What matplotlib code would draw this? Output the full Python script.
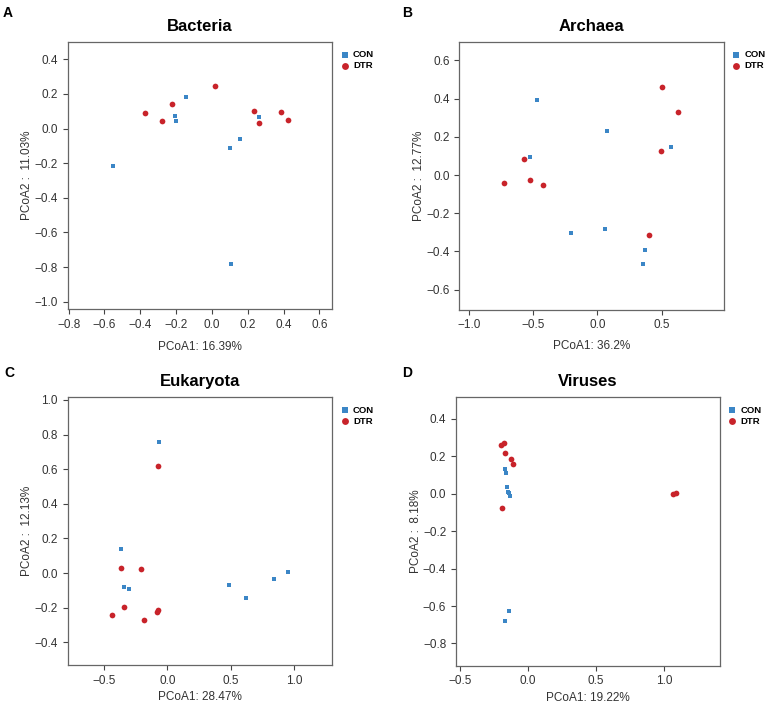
import matplotlib
matplotlib.use("Agg")
import matplotlib.pyplot as plt

plt.rcParams['font.family'] = ['Liberation Sans', 'DejaVu Sans']

BLUE = '#3b86c6'
RED = '#c8232a'

# Bacteria
bac_con_x = [-0.553, -0.144, -0.207, -0.198, 0.103, 0.154, 0.261, 0.109]
bac_con_y = [-0.216, 0.184, 0.071, 0.046, -0.112, -0.058, 0.069, -0.782]
bac_dtr_x = [-0.374, -0.280, -0.224, 0.016, 0.233, 0.265, 0.386, 0.423]
bac_dtr_y = [0.088, 0.044, 0.142, 0.244, 0.104, 0.032, 0.096, 0.048]

# Archaea
arc_con_x = [-0.468, 0.074, -0.528, 0.570, -0.206, 0.059, 0.373, 0.355]
arc_con_y = [0.392, 0.230, 0.092, 0.148, -0.302, -0.284, -0.393, -0.467]
arc_dtr_x = [0.503, 0.627, 0.492, -0.572, -0.730, -0.528, -0.424, 0.401]
arc_dtr_y = [0.462, 0.328, 0.126, 0.082, -0.044, -0.026, -0.052, -0.314]

# Eukaryota
euk_con_x = [-0.067, -0.369, -0.342, -0.303, 0.488, 0.619, 0.837, 0.947]
euk_con_y = [0.755, 0.141, -0.078, -0.094, -0.071, -0.144, -0.032, 0.006]
euk_dtr_x = [-0.077, -0.369, -0.208, -0.342, -0.434, -0.182, -0.072, -0.082]
euk_dtr_y = [0.621, 0.029, 0.024, -0.198, -0.240, -0.271, -0.211, -0.227]

# Viruses
vir_con_x = [-0.172, -0.164, -0.154, -0.150, -0.140, -0.135, -0.142, -0.169]
vir_con_y = [0.134, 0.109, 0.038, 0.010, 0.002, -0.010, -0.629, -0.678]
vir_dtr_x = [-0.201, -0.179, -0.167, -0.125, -0.113, -0.194, 1.064, 1.086]
vir_dtr_y = [0.263, 0.270, 0.216, 0.186, 0.159, -0.074, 0.001, 0.004]

W, H = 767, 708


def make_axes(fig, left, top, right, bottom):
    return fig.add_axes([left / W, 1 - bottom / H, (right - left) / W, (bottom - top) / H])


def draw_panel(ax, title, con_x, con_y, dtr_x, dtr_y, xlim, ylim, xticks, yticks, xlab, ylab, xpad):
    ax.scatter(con_x, con_y, marker='s', s=12, color=BLUE, label='CON', linewidths=0)
    ax.scatter(dtr_x, dtr_y, marker='o', s=17, color=RED, label='DTR', linewidths=0)
    ax.set_xlim(xlim)
    ax.set_ylim(ylim)
    ax.set_xticks(xticks)
    ax.set_yticks(yticks)
    ax.set_xticklabels([f"{t:.1f}".replace('-', '\u2212') for t in xticks])
    ax.set_yticklabels([f"{t:.1f}".replace('-', '\u2212') for t in yticks])
    for sp in ax.spines.values():
        sp.set_color('#666666')
        sp.set_linewidth(0.9)
    ax.tick_params(colors='#444444', labelcolor='#333333', labelsize=8.5, length=3.5, width=0.8)
    ax.set_title(title, fontsize=12, fontweight='bold', pad=8)
    ax.set_xlabel(xlab, fontsize=8.5, color='#333333', labelpad=xpad)
    ax.set_ylabel(ylab, fontsize=8.5, color='#333333', labelpad=1)
    ax.legend(loc='upper left', bbox_to_anchor=(1.0, 1.0), frameon=False,
              prop={'weight': 'bold', 'size': 6.8}, handletextpad=0.5, handlelength=0.8,
              borderaxespad=0.5, labelspacing=0.2, markerscale=1.2)


fig = plt.figure(figsize=(W / 100, H / 100), dpi=100)

axA = make_axes(fig, 67.7, 41.7, 332.3, 309.3)
draw_panel(axA, 'Bacteria', bac_con_x, bac_con_y, bac_dtr_x, bac_dtr_y,
           (-0.805, 0.672), (-1.044, 0.502),
           [-0.8, -0.6, -0.4, -0.2, 0.0, 0.2, 0.4, 0.6],
           [0.4, 0.2, 0.0, -0.2, -0.4, -0.6, -0.8, -1.0],
           'PCoA1: 16.39%', 'PCoA2 :  11.03%', 7)

axB = make_axes(fig, 459.3, 41.7, 723.7, 309.7)
draw_panel(axB, 'Archaea', arc_con_x, arc_con_y, arc_dtr_x, arc_dtr_y,
           (-1.075, 0.983), (-0.705, 0.698),
           [-1.0, -0.5, 0.0, 0.5],
           [0.6, 0.4, 0.2, 0.0, -0.2, -0.4, -0.6],
           'PCoA1: 36.2%', 'PCoA2 :  12.77%', 6)

axC = make_axes(fig, 67.7, 397.3, 332.3, 665.3)
draw_panel(axC, 'Eukaryota', euk_con_x, euk_con_y, euk_dtr_x, euk_dtr_y,
           (-0.786, 1.299), (-0.533, 1.015),
           [-0.5, 0.0, 0.5, 1.0],
           [1.0, 0.8, 0.6, 0.4, 0.2, 0.0, -0.2, -0.4],
           'PCoA1: 28.47%', 'PCoA2 :  12.13%', 3)

axD = make_axes(fig, 456, 397.3, 720, 665.7)
draw_panel(axD, 'Viruses', vir_con_x, vir_con_y, vir_dtr_x, vir_dtr_y,
           (-0.529, 1.412), (-0.919, 0.516),
           [-0.5, 0.0, 0.5, 1.0],
           [0.4, 0.2, 0.0, -0.2, -0.4, -0.6, -0.8],
           'PCoA1: 19.22%', 'PCoA2 :  8.18%', 3)

for letter, px, py in [('A', 8, 13), ('B', 407, 13), ('C', 9, 373), ('D', 407, 373)]:
    fig.text(px / W, 1 - py / H, letter, fontsize=10, fontweight='bold', ha='center', va='center')

fig.savefig('out.png', dpi=100)
